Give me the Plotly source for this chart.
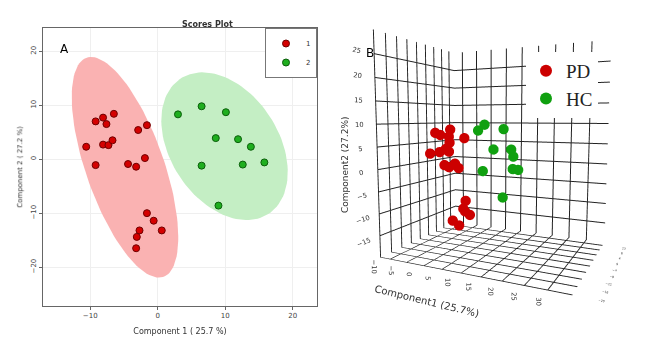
import numpy as np
import plotly.graph_objects as go

# ---------------- data ----------------
# Panel A: scores (Component 1, Component 2)
pd_c1 = [-10.6, -9.2, -8.1, -6.5, -7.6, -8.1, -7.3, -6.7, -2.9, -1.6,
         -9.2, -4.4, -3.2, -1.9, -1.6, -0.6, 0.6, -2.7, -3.1, -3.2]
pd_c2 = [2.3, 7.0, 7.7, 8.4, 6.5, 2.7, 2.6, 3.5, 5.4, 6.3,
         -1.1, -0.9, -1.4, 0.2, -10.0, -11.4, -13.2, -13.2, -14.4, -16.5]
hc_c1 = [3.0, 6.5, 10.1, 8.6, 11.9, 13.8, 6.5, 12.6, 15.8, 9.0]
hc_c2 = [8.3, 9.8, 8.7, 3.9, 3.7, 2.3, -1.2, -1.0, -0.6, -8.6]
# Component 3 (depth in panel B), estimated
pd_c3 = [-2.0, 1.0, -3.0, 2.0, 3.0, -1.0, 2.5, 0.0, -4.0, 1.5,
         3.0, -2.0, 1.0, -3.0, 2.0, -1.0, 0.5, 3.5, -2.5, 1.0]
hc_c3 = [1.0, -2.0, 2.0, -1.0, 3.0, 0.0, -3.0, 2.5, -1.5, 4.0]

# 95% ellipses: center x, center y, semi-major, semi-minor, angle (deg)
pd_ellipse = [-4.85, -1.5, 21.1, 5.9, 105.0]
hc_ellipse = [9.9, 2.4, 14.3, 8.4, 111.0]

xa_ticks = [-10, 0, 10, 20]
ya_ticks = [-20, -10, 0, 10, 20]
xb_ticks = [-10, -5, 0, 5, 10, 15, 20, 25, 30]
zb_ticks = [-15, -10, -5, 0, 5, 10, 15, 20, 25]
yb_ticks = [-20, -16, -12, -8, -4, 0, 4, 8, 12]

RED = "#d40000"
RED_EDGE = "#6e0000"
GREEN = "#1fae1f"
GREEN_EDGE = "#0b5e0b"


def ellipse_xy(p, n=120):
    cx, cy, a, b, ang = p
    t = np.linspace(0, 2 * np.pi, n)
    th = np.deg2rad(ang)
    x = cx + a * np.cos(t) * np.cos(th) - b * np.sin(t) * np.sin(th)
    y = cy + a * np.cos(t) * np.sin(th) + b * np.sin(t) * np.cos(th)
    return x, y


fig = go.Figure()

ex, ey = ellipse_xy(pd_ellipse)
fig.add_trace(go.Scatter(x=ex, y=ey, mode="lines", fill="toself",
                         fillcolor="rgba(250,178,178,1)", line=dict(width=0),
                         showlegend=False, hoverinfo="skip"))
ex, ey = ellipse_xy(hc_ellipse)
fig.add_trace(go.Scatter(x=ex, y=ey, mode="lines", fill="toself",
                         fillcolor="rgba(196,238,196,1)", line=dict(width=0),
                         showlegend=False, hoverinfo="skip"))

fig.add_trace(go.Scatter(x=pd_c1, y=pd_c2, mode="markers", name="1",
                         marker=dict(color=RED, size=7, line=dict(color=RED_EDGE, width=1))))
fig.add_trace(go.Scatter(x=hc_c1, y=hc_c2, mode="markers", name="2",
                         marker=dict(color=GREEN, size=7, line=dict(color=GREEN_EDGE, width=1))))

fig.add_trace(go.Scatter3d(x=pd_c1, y=pd_c3, z=pd_c2, mode="markers", name="PD",
                           legend="legend2", scene="scene",
                           marker=dict(color="#cc0000", size=6, line=dict(width=0))))
fig.add_trace(go.Scatter3d(x=hc_c1, y=hc_c3, z=hc_c2, mode="markers", name="HC",
                           legend="legend2", scene="scene",
                           marker=dict(color="#10a010", size=6, line=dict(width=0))))

W, H = 654, 339
axfont = dict(family="DejaVu Sans", size=7, color="#444")

fig.update_layout(
    width=W, height=H, margin=dict(l=0, r=0, t=0, b=0, autoexpand=False),
    paper_bgcolor="white", plot_bgcolor="white",
    font=dict(family="DejaVu Sans", color="#333"),
    xaxis=dict(domain=[43 / W, 317 / W], range=[-17, 23.6], tickvals=xa_ticks,
               automargin=False,
               showgrid=True, gridcolor="#efefef", zeroline=False,
               showline=True, linecolor="#666", linewidth=1, mirror=True,
               ticks="outside", ticklen=3, tickcolor="#666", tickfont=axfont,
               title=dict(text="Component 1 ( 25.7 %)", font=dict(size=8, color="#333"), standoff=8)),
    yaxis=dict(domain=[1 - 306 / H, 1 - 28 / H], range=[-27.2, 24.3], tickvals=ya_ticks,
               automargin=False,
               showgrid=True, gridcolor="#efefef", zeroline=False,
               showline=True, linecolor="#666", linewidth=1, mirror=True,
               ticks="outside", ticklen=3, tickcolor="#666", tickfont=axfont, tickangle=-90,
               title=dict(text="Component 2 ( 27.2 %)", font=dict(size=7, color="#333"), standoff=6)),
    legend=dict(x=317 / W, y=1 - 28 / H, xanchor="right", yanchor="top",
                bordercolor="#777", borderwidth=1, bgcolor="white",
                font=dict(size=7), itemwidth=30, tracegroupgap=0),
    legend2=dict(x=526 / W, y=1 - 52 / H, xanchor="left", yanchor="top",
                 bgcolor="white", borderwidth=0, tracegroupgap=0, itemsizing="constant",
                 font=dict(family="Liberation Serif", size=19, color="#222")),
    scene=dict(
        domain=dict(x=[322 / W, 1.0], y=[0.04, 1.0]),
        bgcolor="white",
        aspectmode="manual", aspectratio=dict(x=1.05, y=0.8, z=1.2),
        camera=dict(eye=dict(x=0.9, y=-2.0, z=0.15), center=dict(x=-0.07, y=0, z=-0.1),
                    up=dict(x=0, y=0, z=1)),
        xaxis=dict(range=[-13, 35], tickvals=xb_ticks, showgrid=True, gridcolor="#222",
                   showbackground=False, zeroline=False, showspikes=False,
                   tickangle=90, tickfont=dict(size=9, color="#333"),
                   title=dict(text="Component1 (25.7%)", font=dict(size=10, color="#333"))),
        yaxis=dict(range=[-20, 15], tickvals=yb_ticks, showgrid=True, gridcolor="#222",
                   showbackground=False, zeroline=False, showspikes=False,
                   tickfont=dict(size=6, color="#333"), title=dict(text="")),
        zaxis=dict(range=[-20, 30], tickvals=zb_ticks, showgrid=True, gridcolor="#222",
                   showbackground=False, zeroline=False, showspikes=False,
                   tickfont=dict(size=9, color="#333"), title=dict(text="")),
    ),
    annotations=[
        dict(text="<b>Scores Plot</b>", x=180 / W, y=1 - 18 / H, xref="paper", yref="paper",
             showarrow=False, font=dict(size=8, color="#333")),
        dict(text="A", x=58 / W, y=1 - 40 / H, xref="paper", yref="paper",
             showarrow=False, font=dict(size=12, color="#000")),
        dict(text="B", x=370 / W, y=1 - 44 / H, xref="paper", yref="paper",
             showarrow=False, font=dict(size=12, color="#000")),
        dict(text="Component2 (27.2%)", x=345 / W, y=1 - 165 / H, xref="paper", yref="paper",
             textangle=-90, showarrow=False, font=dict(size=9, color="#333")),
    ],
)

fig.write_html("out.html", config={"displayModeBar": False},
               post_script="document.body.style.margin='0';document.body.style.overflow='hidden';")
